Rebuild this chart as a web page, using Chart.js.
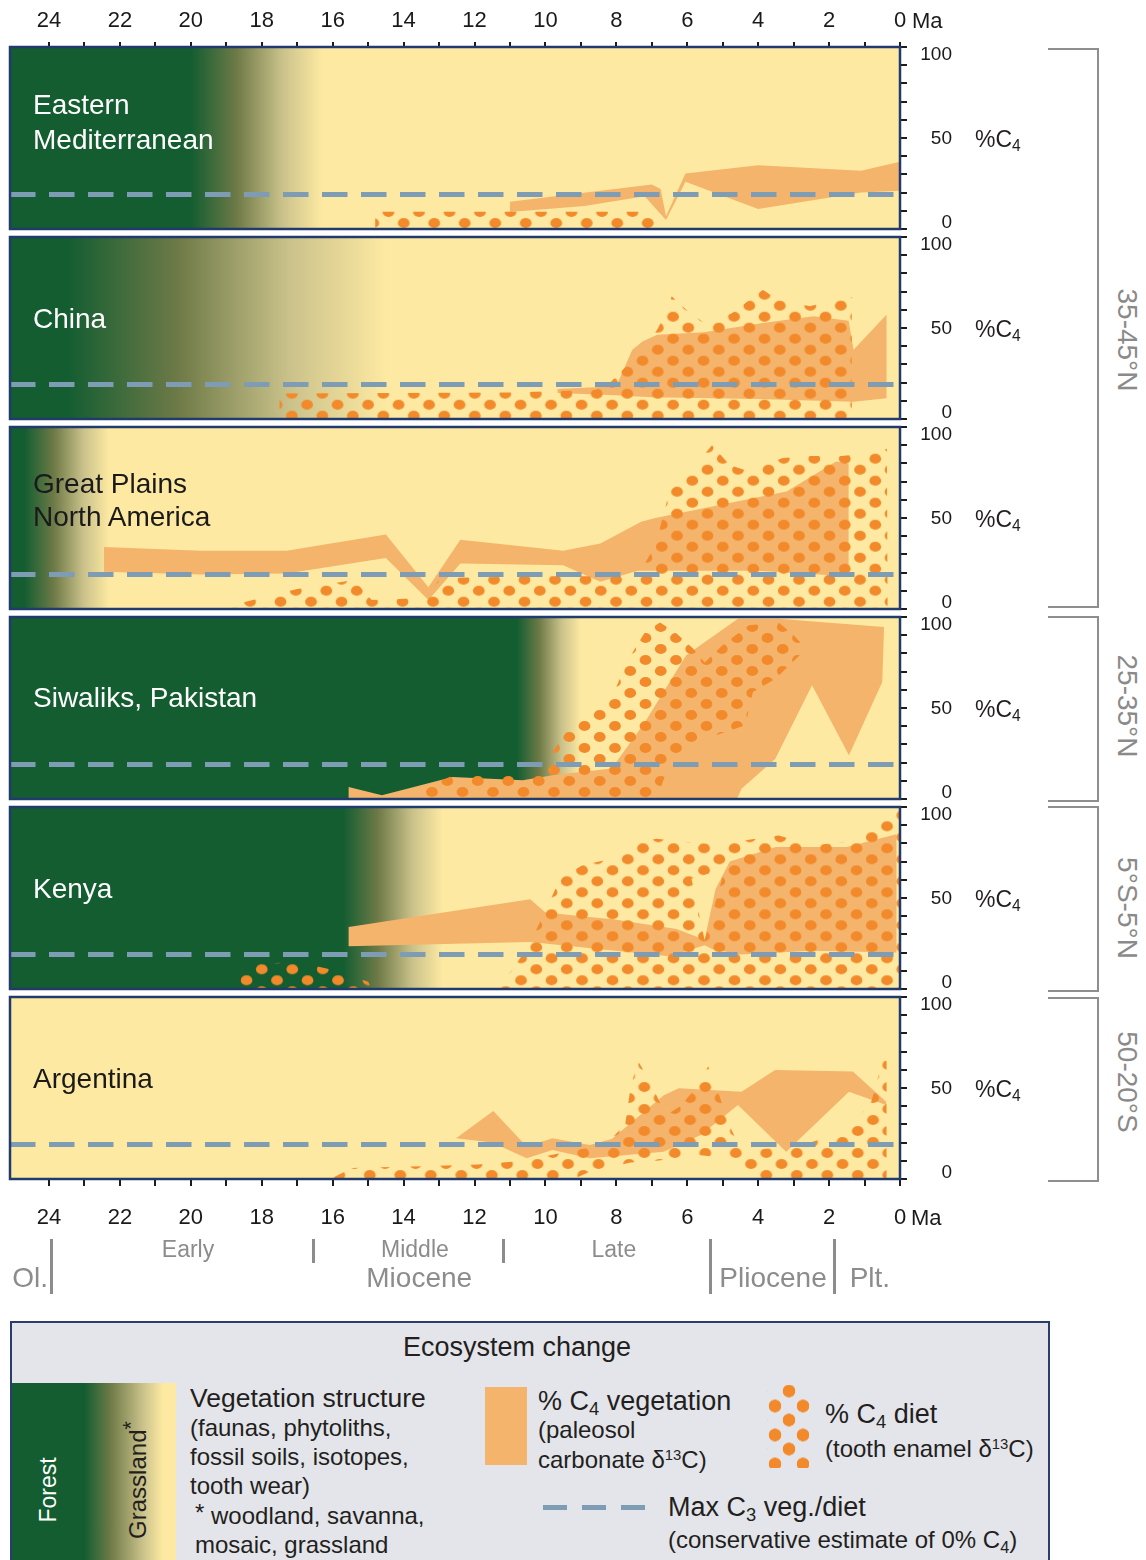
<!DOCTYPE html>
<html><head><meta charset="utf-8"><title>C4 ecosystem change</title>
<script src="https://cdn.jsdelivr.net/npm/chart.js@4.4.1/dist/chart.umd.min.js"></script>
<style>
html,body{margin:0;padding:0;background:#fff;}
body{width:1146px;height:1560px;position:relative;overflow:hidden;font-family:"Liberation Sans",Arial,sans-serif;color:#231f20;}
canvas{position:absolute;left:0;}
.t{position:absolute;white-space:nowrap;line-height:1;transform:translateY(-50%);z-index:5;}
sub{font-size:0.68em;vertical-align:-0.28em;line-height:0;}
sup{font-size:0.62em;vertical-align:0.55em;line-height:0;}
.br{position:absolute;left:1048px;width:49px;border:2px solid #8e8e8e;border-left:none;}
.bl{position:absolute;left:1127px;font-size:28px;color:#8a8a8a;white-space:nowrap;line-height:1;transform:translate(-50%,-50%) rotate(90deg);}
#legend{position:absolute;left:10px;top:1321px;width:1036px;height:260px;background:#e3e5ea;border:2px solid #2b3d6b;}
.rot{position:absolute;white-space:nowrap;line-height:1;transform:translate(-50%,-50%) rotate(-90deg);}
</style></head><body>
<div class="br" style="top:48px;height:556px"></div>
<div class="br" style="top:616px;height:182px"></div>
<div class="br" style="top:806px;height:182px"></div>
<div class="br" style="top:997px;height:181px"></div>
<div class="bl" style="top:340px">35-45°N</div>
<div class="bl" style="top:706px">25-35°N</div>
<div class="bl" style="top:908px">5°S-5°N</div>
<div class="bl" style="top:1082px">50-20°S</div>

<div id="legend"></div>
<div style="position:absolute;left:12px;top:1383px;width:164px;height:180px;background:linear-gradient(to right,#135d31 0%,#135d31 44%,#6e7a47 60%,#cbc28b 80%,#fde9a1 92%,#fde9a1 100%);"></div>
<div class="rot" style="left:48px;top:1490px;font-size:23px;color:#fff;">Forest</div>
<div class="rot" style="left:138px;top:1480px;font-size:24px;color:#231f20;">Grassland<sup style="font-size:0.9em;vertical-align:0.35em">*</sup></div>
<div class="t" style="left:517px;top:1347px;font-size:27px;transform:translate(-50%,-50%);">Ecosystem change</div>
<div class="t" style="left:190px;top:1398px;font-size:26.5px;">Vegetation structure</div>
<div class="t" style="left:190px;top:1428px;font-size:24px;">(faunas, phytoliths,</div>
<div class="t" style="left:190px;top:1457px;font-size:24px;">fossil soils, isotopes,</div>
<div class="t" style="left:190px;top:1486px;font-size:24px;">tooth wear)</div>
<div class="t" style="left:195px;top:1516px;font-size:24px;"><span style="position:relative;top:-3px">*</span> woodland, savanna,</div>
<div class="t" style="left:195px;top:1545px;font-size:24px;">mosaic, grassland</div>
<div style="position:absolute;left:485px;top:1387px;width:42px;height:78px;background:#f4b46b;"></div>
<div class="t" style="left:538px;top:1401px;font-size:27px;">% C<sub>4</sub> vegetation</div>
<div class="t" style="left:538px;top:1430px;font-size:24px;">(paleosol</div>
<div class="t" style="left:538px;top:1460px;font-size:24px;">carbonate δ<sup>13</sup>C)</div>
<div style="position:absolute;left:767px;top:1385px;width:42px;height:83px;background:radial-gradient(circle,#f28a2b 6px,rgba(242,138,43,0) 6.6px) 8px -8.5px/28px 29px repeat,radial-gradient(circle,#f28a2b 6px,rgba(242,138,43,0) 6.6px) -6px 6.5px/28px 29px repeat;"></div>
<div class="t" style="left:825px;top:1414px;font-size:27px;">% C<sub>4</sub> diet</div>
<div class="t" style="left:825px;top:1449px;font-size:24px;">(tooth enamel δ<sup>13</sup>C)</div>
<div style="position:absolute;left:543px;top:1505px;width:104px;height:5px;background:repeating-linear-gradient(to right,#7e9db5 0px,#7e9db5 24px,rgba(0,0,0,0) 24px,rgba(0,0,0,0) 39px);"></div>
<div class="t" style="left:668px;top:1507px;font-size:27px;">Max C<sub>3</sub> veg./diet</div>
<div class="t" style="left:668px;top:1540px;font-size:24px;">(conservative estimate of 0% C<sub>4</sub>)</div>

<script>
// ---------------- DATA ----------------
const MA_MAX = 25.1;                       // left edge of the time axis (Ma)
const xTickMa = [0,1,2,3,4,5,6,7,8,9,10,11,12,13,14,15,16,17,18,19,20,21,22,23,24];
const xLabelMa = [0,2,4,6,8,10,12,14,16,18,20,22,24];
const yTickPct = [0,10,20,30,40,50,60,70,80,90,100];
const yLabelPct = [0,50,100];
const c3MaxPct = [19,19,19,19,19,19];      // max C3 veg./diet (dashed)

// vegetation structure: forest until forestEnd (Ma), grassland from grassStart (Ma)
const forestEnd  = [20.0, 23.5, 24.7, 10.8, 15.7, null];
const grassStart = [16.3, 14.5, 22.3,  9.0, 12.9, null];

// % C4 vegetation polygons [Ma, %C4]
const emVeg = [[11.0,15],[7.0,24.5],[6.75,22],[6.6,7],[6.05,30.5],[4.0,35],[1.1,32],[0,37],[0,21],[1.1,20],[4.0,11],[6.05,26],[6.6,5],[7.2,18],[8.9,12.7],[11.0,9.4]];
const chVeg = [[9.66,16.5],[8.0,18],[7.55,38],[7.26,42.6],[6.85,46.3],[5.52,47.6],[3.87,52.7],[2.44,56.4],[1.45,54],[1.31,38],[0.38,57.3],[0.38,11.4],[1.31,9.5],[4.0,11],[7.0,12],[8.03,13],[9.66,14.3]];
const gpVeg = [[22.45,34],[19.7,32],[17.3,32],[14.5,41],[13.3,12],[12.4,38],[9.5,32],[8.45,36],[7.3,48],[6.9,50],[4.6,59],[3.2,64.5],[1.8,81],[1.45,80],[1.45,18],[4.0,21],[7.4,21],[8.45,15],[9.5,24],[12.4,25],[13.3,5],[14.5,28],[17.3,19.5],[19.7,19],[22.45,20.5]];
const siVeg = [[15.55,6.6],[14.61,2],[12.62,12.1],[10.64,10.3],[9.8,13],[8.13,16.7],[7.19,42.3],[6.03,79],[4.57,99],[3.42,99],[0.45,94.5],[0.5,64.3],[1.44,24],[2.48,62.5],[3.52,22],[4.47,5.7],[4.6,0],[15.55,0]];
const keVeg = [[15.55,34],[10.43,49.3],[10.0,42],[8.0,38],[6.3,33],[5.51,27],[5.2,55],[4.8,70],[3.5,78],[1.5,78],[0.1,85],[0.1,20],[2.5,21],[4.5,19],[5.3,22],[5.51,24],[6.5,18],[8.5,22],[10.43,25.8],[15.55,23.5]];
const arVeg = [[12.52,22.4],[11.47,37.4],[10.53,17.8],[9.8,22.4],[8.75,18.7],[8.13,22],[6.66,46],[6.24,49.8],[4.47,48],[3.52,59.9],[1.33,59],[0.39,42.5],[0.39,40.7],[1.44,48],[3.21,15],[4.57,40.7],[5.62,24.2],[6.66,15],[7.71,13.2],[8.75,11.4],[9.8,15.9],[10.53,11.4],[11.5,20]];

// % C4 diet polygons [Ma, %C4]
const emDiet = [[14.8,0],[14.8,9.5],[6.9,9.5],[6.9,0]];
const chDiet = [[17.5,0],[17.5,14],[11.0,14.5],[8.6,16],[8.19,19.7],[7.26,38],[6.85,49],[6.55,60],[6.44,67.4],[6.03,60],[5.52,52.7],[4.75,58],[4.34,64],[3.87,71],[3.46,65.6],[2.54,62],[2.03,64.6],[1.36,67],[1.36,0]];
const gpDiet = [[19.3,0],[18.45,4],[17.0,11],[15.4,16],[14.9,5],[13.4,6],[12.95,17],[10.0,18],[7.4,18],[6.9,35],[6.5,64.5],[5.6,83],[5.3,90],[4.8,79],[4.3,76],[3.3,83],[2.54,84],[1.64,84],[0.74,86],[0.37,88],[0.35,0]];
const siDiet = [[13.5,0],[13.5,5],[12.6,13],[10.5,13],[10.2,16.7],[9.8,25.8],[9.28,40.5],[8.54,51.5],[8.02,60.6],[7.71,75],[7.19,91.8],[6.77,97],[6.35,91.8],[5.83,82.6],[5.51,75],[5.0,84.6],[4.26,95.4],[3.42,97],[3.0,90],[2.64,82.6],[3.52,66],[4.15,58.8],[4.36,40.5],[5.51,33],[6.35,24],[6.66,11],[6.87,0]];
const keDiet = [[11.47,0],[11.05,7.5],[10.53,22],[10.01,42.3],[9.59,60.6],[8.96,68],[8.13,71.6],[7.71,79],[6.87,82.6],[6.03,80.8],[5.45,80],[5.45,63],[5.88,60.6],[5.51,26.8],[4.99,62.5],[5.45,63],[5.45,80],[4.78,80],[4.26,82],[3.42,84.4],[2.48,79],[1.54,80.8],[1.01,86.3],[0.6,93.6],[0,99],[0,0]];
const keDietEarly = [[18.6,0],[18.6,10],[18.3,13.5],[17.0,15],[15.9,10],[15.0,4],[14.9,0]];
const arDiet = [[16.07,0],[15.45,6],[13.5,7],[11.9,8],[10.6,10],[9.4,15],[8.3,19],[7.75,30],[7.6,50],[7.39,65],[7.1,55],[6.87,46],[6.6,35],[6.2,40],[5.62,53],[5.41,62],[5.1,46],[4.78,28],[4.45,15],[3.6,17],[3.0,17],[1.9,24],[1.44,28],[0.81,42.5],[0.49,65],[0.38,65],[0.38,0],[4.4,0],[4.6,11],[5.62,13],[6.87,10],[7.6,9],[8.75,4],[9.2,0]];

// geologic time scale
const epochBoundsMa = [23.95, 16.55, 11.2, 5.35, 1.85];
const epochBoundFull = [true, false, false, true, true];
const subEpochNames = ['Early','Middle','Late'];
const subEpochMa = [20.08, 13.68, 8.07];
const epochNames = ['Ol.','Miocene','Pliocene','Plt.'];
const epochMa = [24.53, 13.56, 3.58, 0.85];

const regionNames = [['Eastern','Mediterranean'],['China'],['Great Plains','North America'],['Siwaliks, Pakistan'],['Kenya'],['Argentina']];
const panelVeg = [[emVeg],[chVeg],[gpVeg],[siVeg],[keVeg],[arVeg]];
const panelDiet = [[emDiet],[chDiet],[gpDiet],[siDiet],[keDiet,keDietEarly],[arDiet]];

// ---------------- STYLE / LAYOUT ----------------
const FONT = '"Liberation Sans", Arial, sans-serif';
const COL = {forest:'#135d31', olive:'#6e7a47', khaki:'#cbc28b', grass:'#fde9a1', veg:'#f4b46b', diet:'#f28a2b', c3:'#7e9db5', frame:'#213b6c', axis:'#1c1c1c'};
const W = 1146;
const panelTop = [47, 237, 427, 617, 807, 997];
const panelH = 182;
const MARGIN = 32;
// where each y label sits (slightly inside the frame, as in the original)
const yLabelPos = {100: 95.5, 50: 49.5, 0: 3.3};
const labelStyle = [
  {dy:[58,93], color:'#ffffff'}, {dy:[82], color:'#ffffff'}, {dy:[57,90], color:'#1a1a1a'},
  {dy:[81], color:'#ffffff'}, {dy:[82], color:'#ffffff'}, {dy:[82], color:'#1a1a1a'}
];
const dietRowOff = [6, 3.3, 7.3, 7, 8.7, 4];
const dietPhase = [403.7, 352.8, 250, 493, 521, 339.3];

Chart.defaults.font.family = FONT;

function addText(html, x, y, size, color) {
  const d = document.createElement('div');
  d.className = 't';
  d.style.left = x + 'px'; d.style.top = y + 'px';
  d.style.fontSize = size + 'px';
  if (color) d.style.color = color;
  d.innerHTML = html;
  document.body.appendChild(d);
}

function makeDietPattern(ox, oy) {
  const tw = 61, th = 22;
  const tile = document.createElement('canvas');
  tile.width = tw; tile.height = th;
  const g = tile.getContext('2d');
  g.fillStyle = COL.diet;
  const centers = [[0,0],[30.5,0],[15.25,11],[45.75,11]];
  for (const [cx, cy] of centers) for (const dx of [-tw,0,tw]) for (const dy of [-th,0,th]) {
    g.beginPath(); g.ellipse(cx+dx, cy+dy, 5.9, 5.1, 0, 0, Math.PI*2); g.fill();
  }
  const p = g.createPattern(tile, 'repeat');
  p.setTransform(new DOMMatrix().translateSelf(ox, oy));
  return p;
}

const toPts = arr => arr.map(([x, y]) => ({x, y}));

function bgPlugin(i) {
  return {
    id: 'bg' + i,
    beforeDatasetsDraw(chart) {
      const {ctx, chartArea: a} = chart;
      const xs = chart.scales.x;
      ctx.save();
      let fill = COL.grass;
      if (forestEnd[i] !== null) {
        const x0 = xs.getPixelForValue(forestEnd[i]), x1 = xs.getPixelForValue(grassStart[i]);
        const g = ctx.createLinearGradient(x0, 0, x1, 0);
        g.addColorStop(0, COL.forest); g.addColorStop(0.35, COL.olive);
        g.addColorStop(0.7, COL.khaki); g.addColorStop(1, COL.grass);
        fill = g;
      }
      ctx.fillStyle = fill;
      ctx.fillRect(a.left, a.top, a.width, a.height);
      ctx.restore();
    }
  };
}
const framePlugin = {
  id: 'frame',
  afterDatasetsDraw(chart) {
    const {ctx, chartArea: a} = chart;
    ctx.save();
    ctx.strokeStyle = COL.frame; ctx.lineWidth = 2.5;
    ctx.strokeRect(a.left, a.top, a.width, a.height);
    ctx.restore();
  }
};
function epochPlugin(off) {
  return {
    id: 'epochs',
    afterDraw(chart) {
      const ctx = chart.ctx, xs = chart.scales.x;
      ctx.save();
      ctx.strokeStyle = '#8c8c8c'; ctx.lineWidth = 3;
      epochBoundsMa.forEach((ma, i) => {
        const x = Math.round(xs.getPixelForValue(ma)) + 0.5;
        ctx.beginPath(); ctx.moveTo(x, 1239 - off); ctx.lineTo(x, (epochBoundFull[i] ? 1294 : 1263) - off); ctx.stroke();
      });
      ctx.fillStyle = '#8c8c8c'; ctx.textAlign = 'center'; ctx.textBaseline = 'middle';
      ctx.font = '23px ' + FONT;
      subEpochNames.forEach((n, i) => ctx.fillText(n, xs.getPixelForValue(subEpochMa[i]), 1251 - off));
      ctx.font = '28px ' + FONT;
      epochNames.forEach((n, i) => ctx.fillText(n, xs.getPixelForValue(epochMa[i]), 1279 - off));
      ctx.restore();
    }
  };
}

// tick marks at yTickPct; labels drawn on separate (mark-less) ticks at yLabelPos
const yLabelTickVals = yLabelPct.map(v => yLabelPos[v]);
function yLabelFor(v) {
  for (const p of yLabelPct) if (yLabelPos[p] === v) return String(p);
  return '';
}

function makePanel(i) {
  const T = panelTop[i], B = T + panelH;
  const isFirst = i === 0, isLast = i === 5;
  const showX = isFirst || isLast;
  const cT = isFirst ? 0 : T - MARGIN;
  const cB = isLast ? 1310 : B + MARGIN;
  const cv = document.createElement('canvas');
  cv.width = W; cv.height = cB - cT;
  cv.style.top = cT + 'px'; cv.style.width = W + 'px'; cv.style.height = (cB - cT) + 'px';
  document.body.appendChild(cv);

  const pattern = makeDietPattern(dietPhase[i], B - dietRowOff[i] - cT);
  const datasets = [{
    data: [{x: MA_MAX, y: c3MaxPct[i]}, {x: 0, y: c3MaxPct[i]}],
    borderColor: COL.c3, borderWidth: 5, borderDash: [25.5, 13.5], borderCapStyle: 'butt',
    pointRadius: 0, fill: false, order: 0
  }];
  panelDiet[i].forEach(d => datasets.push({data: toPts(d), fill: 'shape', backgroundColor: pattern, borderWidth: 0, borderColor: 'rgba(0,0,0,0)', pointRadius: 0, tension: 0, order: 1}));
  panelVeg[i].forEach(v => datasets.push({data: toPts(v), fill: 'shape', backgroundColor: COL.veg, borderWidth: 0, borderColor: 'rgba(0,0,0,0)', pointRadius: 0, tension: 0, order: 2}));

  const plugins = [bgPlugin(i), framePlugin];
  if (isLast) plugins.push(epochPlugin(cT));

  new Chart(cv, {
    type: 'line',
    data: {datasets},
    options: {
      responsive: false, animation: false, devicePixelRatio: 1, events: [],
      layout: {padding: {left: 10, right: W - 952, top: isFirst ? 0 : T - cT, bottom: isLast ? 0 : cB - B}},
      plugins: {legend: {display: false}, tooltip: {enabled: false}},
      scales: {
        x: {
          type: 'linear', min: 0, max: MA_MAX, reverse: true,
          display: showX, position: isFirst ? 'top' : 'bottom',
          afterBuildTicks: s => { s.ticks = xTickMa.map(v => ({value: v})); },
          afterFit: s => { if (showX) s.height = isFirst ? T : cB - B; else s.height = 0; },
          grid: {drawOnChartArea: false, drawTicks: true, tickLength: isFirst ? 5 : 7, color: COL.axis, lineWidth: 2},
          border: {display: false},
          ticks: {autoSkip: false, maxRotation: 0, minRotation: 0, padding: isFirst ? 8 : 19, color: '#1a1a1a',
                  font: {family: FONT, size: 22}, callback: v => xLabelMa.includes(v) ? String(v) : ''}
        },
        y: {
          type: 'linear', min: 0, max: 100, position: 'right',
          afterBuildTicks: s => { s.ticks = yTickPct.concat(yLabelTickVals).sort((a, b) => a - b).map(v => ({value: v})); },
          afterFit: s => { s.width = 52; },
          grid: {drawOnChartArea: false, drawTicks: true, tickLength: 7, lineWidth: 2, color: COL.axis,
                 tickColor: c => (c.tick && yTickPct.includes(c.tick.value)) ? COL.axis : 'rgba(0,0,0,0)'},
          border: {display: false},
          ticks: {autoSkip: false, crossAlign: 'far', padding: 12, color: '#1a1a1a', font: {family: FONT, size: 19},
                  callback: v => yLabelFor(v)}
        }
      }
    },
    plugins
  });

  // region name and %C4 label
  regionNames[i].forEach((line, k) => addText(line, 33, T + labelStyle[i].dy[k], 28, labelStyle[i].color));
  addText('%C<sub>4</sub>', 975, T + 92, 23, '#231f20');
}

for (let i = 0; i < 6; i++) makePanel(i);
addText('Ma', 912, 21, 22, '#1a1a1a');
addText('Ma', 911, 1218, 22, '#1a1a1a');
</script>
</body></html>
